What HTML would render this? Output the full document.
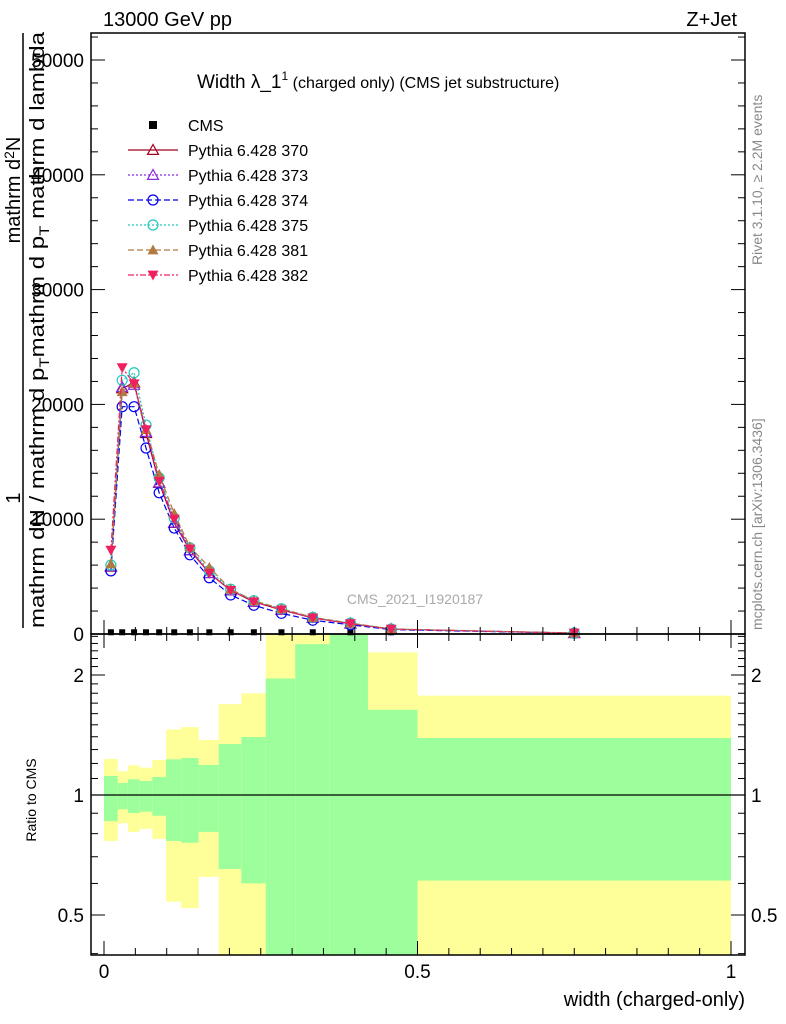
<!DOCTYPE html>
<html><head><meta charset="utf-8"><style>
body{margin:0;background:#fff}
svg{display:block;font-family:"Liberation Sans",sans-serif}
</style></head><body>
<svg id="c" width="786" height="1024" viewBox="0 0 786 1024">
<g id="bands"></g>
<g id="main"></g>
<g id="axes"></g>
<text x="103" y="26" font-size="20">13000 GeV pp</text>
<text x="737" y="26" font-size="20" text-anchor="end">Z+Jet</text>
<text x="197" y="88" font-size="19">Width λ_1<tspan font-size="12" dy="-8">1</tspan><tspan font-size="16" dy="8"> (charged only) (CMS jet substructure)</tspan></text>
<text x="415" y="604" font-size="14" fill="#aaa" text-anchor="middle">CMS_2021_I1920187</text>
<text x="745" y="1006" font-size="20" text-anchor="end">width (charged-only)</text>
<text transform="translate(36,800) rotate(-90)" font-size="14" text-anchor="middle">Ratio to CMS</text>
<g font-size="20">
<line x1="23" x2="23" y1="33" y2="628" stroke="#000" stroke-width="1.5"/>
<text transform="translate(44,628) rotate(-90)" textLength="596" lengthAdjust="spacingAndGlyphs">mathrm d<tspan>N</tspan> / mathrm d p<tspan font-size="14" dy="5">T</tspan><tspan dy="-5">mathrm d p</tspan><tspan font-size="14" dy="5">T</tspan><tspan dy="-5"> mathrm d lambda</tspan></text>
<text transform="translate(20,498) rotate(-90)" text-anchor="middle">1</text>
<text transform="translate(20,190) rotate(-90)" text-anchor="middle">mathrm d<tspan font-size="14" dy="-6">2</tspan><tspan dy="6">N</tspan></text>
</g>
<text transform="translate(762,265) rotate(-90)" font-size="14" fill="#888">Rivet 3.1.10, ≥ 2.2M events</text>
<text transform="translate(762,630) rotate(-90)" font-size="14" fill="#888">mcplots.cern.ch [arXiv:1306.3436]</text>
<g id="legend"></g>
</svg>
<script>
const edges=[0,0.022,0.038,0.057,0.077,0.099,0.123,0.151,0.183,0.219,0.258,0.305,0.360,0.421,0.5,1.0];
const centers=[0.011,0.029,0.048,0.067,0.088,0.112,0.137,0.168,0.202,0.239,0.283,0.333,0.393,0.458,0.75];
const cms=[150,150,150,150,150,150,150,150,150,150,150,150,150,150,150];
const p370=[5860,21400,21900,17500,13150,9670,7300,5300,3800,2800,2100,1400,900,420,80];
const p373=[5900,21500,21700,17600,13200,9700,7300,5300,3800,2800,2100,1400,900,420,80];
const p374=[5500,19800,19800,16200,12300,9230,6900,4900,3400,2500,1800,1200,800,380,70];
const p375=[6000,22100,22760,18200,13600,10100,7500,5500,3900,2900,2200,1450,950,440,85];
const p381=[6100,21100,21900,17800,13900,10500,7600,5800,3900,2900,2200,1450,950,440,85];
const p382=[7300,23200,21800,17800,13300,10000,7400,5300,3800,2800,2100,1400,900,420,80];
const greenHi=[1.116,1.072,1.095,1.084,1.11,1.229,1.238,1.189,1.342,1.398,1.96,2.39,2.6,1.636,1.39];
const greenLo=[0.86,0.921,0.901,0.908,0.887,0.767,0.759,0.808,0.652,0.6,0.3,0.3,0.3,0.3,0.61];
const yelHi=[1.231,1.147,1.187,1.171,1.224,1.46,1.48,1.374,1.69,1.8,2.6,2.6,2.6,2.28,1.775];
const yelLo=[0.767,0.849,0.808,0.822,0.776,0.54,0.52,0.623,0.3,0.3,0.3,0.3,0.3,0.3,0.3];
const yTicks=[0,10000,20000,30000,40000,50000];
const xTickLabels=[0,0.5,1];
const rTicks=[0.5,1,2];

const NS="http://www.w3.org/2000/svg";
const L=91,R=745,T=33,MB=634,RB=955;
const X=v=>104+627*v;
const Y=v=>634-v*0.01148;
const RY=r=>Math.max(T+601,Math.min(RB,795-120*Math.log2(r)));
function mk(p,tag,a){const e=document.createElementNS(NS,tag);for(const k in a)e.setAttribute(k,a[k]);p.appendChild(e);return e;}
const bands=document.getElementById('bands'),main=document.getElementById('main'),axes=document.getElementById('axes'),leg=document.getElementById('legend');
for(let i=0;i<centers.length;i++){
 const x0=X(edges[i]),x1=X(edges[i+1]);
 let e=mk(bands,'rect',{x:x0,y:RY(yelHi[i]),width:x1-x0,height:RY(yelLo[i])-RY(yelHi[i]),fill:'#ffff99'});
 
 
 e=mk(bands,'rect',{x:x0,y:RY(greenHi[i]),width:x1-x0,height:RY(greenLo[i])-RY(greenHi[i]),fill:'#9cff9c'});
 
 
}
let l=mk(bands,'line',{x1:L,x2:R,y1:RY(1),y2:RY(1),stroke:'#000','stroke-width':1.2});


function marker(g,type,x,y,col,sz){
 const s=5.5;
 if(type==='sq'){const h=(sz||8)/2;return mk(g,'rect',{x:x-h,y:y-h,width:2*h,height:2*h,fill:'#000'});}
 if(type==='tri')return mk(g,'polygon',{points:`${x},${y-s} ${x-s},${y+s*0.8} ${x+s},${y+s*0.8}`,fill:'none',stroke:col,'stroke-width':1.2});
 if(type==='trif')return mk(g,'polygon',{points:`${x},${y-s} ${x-s},${y+s*0.8} ${x+s},${y+s*0.8}`,fill:col});
 if(type==='trid')return mk(g,'polygon',{points:`${x},${y+s} ${x-s},${y-s*0.8} ${x+s},${y-s*0.8}`,fill:col});
 if(type==='circ')return mk(g,'circle',{cx:x,cy:y,r:5,fill:'none',stroke:col,'stroke-width':1.2});
}
const series=[
 {name:'Pythia 6.428 370',d:p370,col:'#a00020',dash:'',m:'tri',id:'370'},
 {name:'Pythia 6.428 373',d:p373,col:'#8a2be2',dash:'2,2',m:'tri',id:'373'},
 {name:'Pythia 6.428 374',d:p374,col:'#0000ee',dash:'6,3',m:'circ',id:'374'},
 {name:'Pythia 6.428 375',d:p375,col:'#20c8c0',dash:'2,2',m:'circ',id:'375'},
 {name:'Pythia 6.428 381',d:p381,col:'#b07a40',dash:'6,3',m:'trif',id:'381'},
 {name:'Pythia 6.428 382',d:p382,col:'#ee2060',dash:'6,2,2,2',m:'trid',id:'382'}];
const cg=mk(main,'g',{});


cms.forEach((v,i)=>{const m=marker(cg,'sq',X(centers[i]),Math.max(Y(v),632),'#000',6);
 
 });
series.forEach(s=>{
 const g=mk(main,'g',{});
 
 
 const pts=s.d.map((v,i)=>X(centers[i])+','+Y(v)).join(' ');
 mk(g,'polyline',{points:pts,fill:'none',stroke:s.col,'stroke-width':1.2,'stroke-dasharray':s.dash});
 s.d.forEach((v,i)=>{const m=marker(g,s.m,X(centers[i]),Y(v),s.col);
  
  });
});
let ly=125;
let lg=mk(leg,'g',{});


marker(lg,'sq',153,ly,'#000');
let t=mk(lg,'text',{x:188,y:ly+6,'font-size':16});t.textContent='CMS';
series.forEach((s,i)=>{
 const y=ly+25*(i+1);
 const g=mk(leg,'g',{});
 
 
 mk(g,'line',{x1:128,x2:178,y1:y,y2:y,stroke:s.col,'stroke-width':1.2,'stroke-dasharray':s.dash});
 marker(g,s.m,153,y,s.col);
 const tt=mk(g,'text',{x:188,y:y+6,'font-size':16});tt.textContent=s.name;
});
mk(axes,'rect',{x:L,y:T,width:R-L,height:MB-T,fill:'none',stroke:'#000','stroke-width':1.5});
mk(axes,'rect',{x:L,y:MB,width:R-L,height:RB-MB,fill:'none',stroke:'#000','stroke-width':1.5});
for(let v=0;v<=52000;v+=2000){const y=Y(v);const maj=v%10000===0;const len=maj?14:7;
 mk(axes,'line',{x1:L,x2:L+len,y1:y,y2:y,stroke:'#000'});mk(axes,'line',{x1:R,x2:R-len,y1:y,y2:y,stroke:'#000'});}
yTicks.forEach(v=>{const tx=mk(axes,'text',{x:84,y:Y(v)+7,'font-size':19,'text-anchor':'end'});tx.textContent=v;
 
 });
for(let k=0;k<=20;k++){const v=k*0.05;const x=X(v);const maj=k%10===0;const len=maj?14:7;
 mk(axes,'line',{x1:x,x2:x,y1:MB,y2:MB-len,stroke:'#000'});
 mk(axes,'line',{x1:x,x2:x,y1:RB,y2:RB-len,stroke:'#000'});
 mk(axes,'line',{x1:x,x2:x,y1:MB,y2:MB+len,stroke:'#000'});}
xTickLabels.forEach(v=>{const tx=mk(axes,'text',{x:X(v),y:978,'font-size':19,'text-anchor':'middle'});tx.textContent=v;
 
 });
[0.4,0.5,0.6,0.7,0.8,0.9,1,1.1,1.2,1.3,1.4,1.5,1.6,1.7,1.8,1.9,2,2.1,2.2,2.3,2.4,2.5].forEach(r=>{
 const y=795-120*Math.log2(r);if(y<MB||y>RB)return;const maj=rTicks.includes(r);const len=maj?14:7;
 mk(axes,'line',{x1:L,x2:L+len,y1:y,y2:y,stroke:'#000'});mk(axes,'line',{x1:R,x2:R-len,y1:y,y2:y,stroke:'#000'});});
rTicks.forEach(r=>{const y=RY(r)+7;
 let tx=mk(axes,'text',{x:84,y:y,'font-size':19,'text-anchor':'end'});tx.textContent=r;
 
 
 tx=mk(axes,'text',{x:751,y:y,'font-size':19});tx.textContent=r;
 
 });
</script>
</body></html>
